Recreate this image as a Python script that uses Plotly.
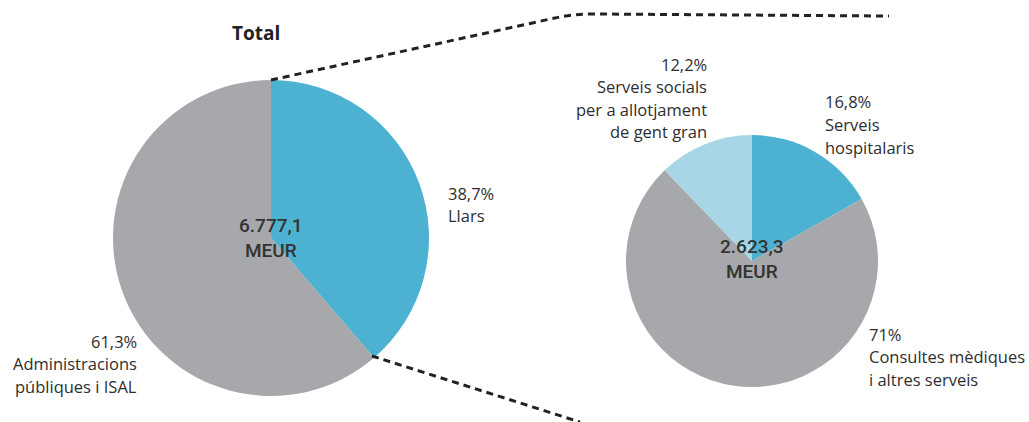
import plotly.graph_objects as go

W, H = 1029, 422

# Total spending by financing agent
total_labels = ["Llars", "Administracions públiques i ISAL"]
total_shares = [38.7, 61.3]
total_amount = "6.777,1"

# Breakdown of household spending
llars_labels = ["Serveis hospitalaris", "Consultes mèdiques i altres serveis",
                "Serveis socials per a allotjament de gent gran"]
llars_shares = [16.8, 71.0, 12.2]
llars_amount = "2.623,3"

BLUE = "#4db2d1"
GREY = "#a7a8ab"
LIGHT = "#a8d6e6"
TEXT = "#2e2e2e"
FONT = "Open Sans"


def px(x):
    return x / W


def py(y):
    return 1 - y / H


def domain(cx, cy, r):
    return dict(x=[px(cx - r), px(cx + r)], y=[py(cy + r), py(cy - r)])


def pct(v):
    s = f"{v:.1f}".rstrip("0").rstrip(".")
    return s.replace(".", ",") + "%"


fig = go.Figure()
fig.add_trace(go.Pie(
    labels=total_labels, values=total_shares, sort=False, direction="clockwise",
    rotation=0, textinfo="none", hoverinfo="label+percent",
    marker=dict(colors=[BLUE, GREY], line=dict(width=0)),
    domain=domain(271, 238, 158), showlegend=False,
))
fig.add_trace(go.Pie(
    labels=llars_labels, values=llars_shares, sort=False, direction="clockwise",
    rotation=0, textinfo="none", hoverinfo="label+percent",
    marker=dict(colors=[BLUE, GREY, LIGHT], line=dict(width=0)),
    domain=domain(752, 261, 126), showlegend=False,
))

annotations = []


def text_block(lines, x, y0, anchor, size=16.5, step=22.5, color=TEXT, weight=400,
               family=FONT):
    for i, line in enumerate(lines):
        annotations.append(dict(
            x=px(x), y=py(y0 + i * step), xref="paper", yref="paper",
            text=line, showarrow=False,
            xanchor=anchor, yanchor="middle",
            font=dict(family=family, size=size, color=color, weight=weight),
        ))


def centre_label(amount, x, y):
    # two-line total in the middle of a pie
    annotations.append(dict(
        x=px(x), y=py(y), xref="paper", yref="paper",
        text=f"{amount}<br>MEUR", showarrow=False, align="center",
        xanchor="center", yanchor="middle",
        font=dict(family="Roboto", size=19, color="#333333", weight=500),
    ))


text_block(["Total"], 256, 33, "center", size=19, color="#222222", weight=700)
centre_label(total_amount, 271, 237.5)
centre_label(llars_amount, 752, 259)

text_block([pct(total_shares[0]), "Llars"], 446, 193, "left")
text_block([pct(total_shares[1]), "Administracions", "públiques i ISAL"], 139, 341, "right")
text_block([pct(llars_shares[2]), "Serveis socials", "per a allotjament", "de gent gran"],
           709, 64, "right")
text_block([pct(llars_shares[0]), "Serveis", "hospitalaris"], 823, 102, "left")
text_block([pct(llars_shares[1]), "Consultes mèdiques", "i altres serveis"], 867, 334, "left")

top = (f"M {px(271)},{py(80)} L {px(555)},{py(18)} "
       f"Q {px(575)},{py(13.5)} {px(598)},{py(14)} L {px(889)},{py(16)}")
bottom = f"M {px(372)},{py(356)} L {px(580)},{py(422)}"

shapes = [
    dict(type="path", path=top, xref="paper", yref="paper",
         line=dict(color="#222222", width=3, dash="7px,5px")),
    dict(type="path", path=bottom, xref="paper", yref="paper",
         line=dict(color="#222222", width=3, dash="7px,5px")),
]

fig.update_layout(
    width=W, height=H, margin=dict(l=0, r=0, t=0, b=0),
    paper_bgcolor="white", plot_bgcolor="white",
    annotations=annotations, shapes=shapes,
)

fig.write_html("out.html")
